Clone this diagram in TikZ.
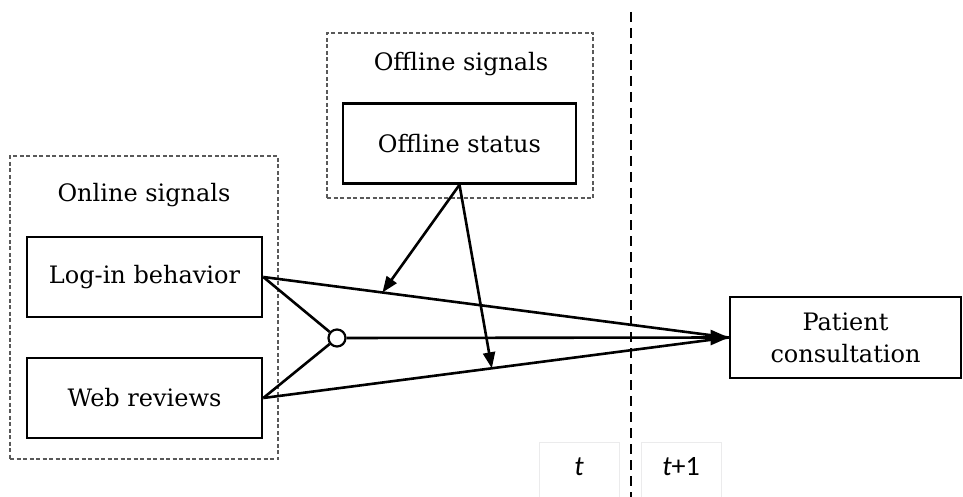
\documentclass[tikz,border=0pt]{standalone}
\usepackage{fontspec}
\setmainfont{DejaVu Serif}
\newfontfamily\calib{Carlito}
\usetikzlibrary{arrows.meta,calc}
\begin{document}
\begin{tikzpicture}[x=1pt,y=-1pt,
  solidbox/.style={draw,line width=2.6pt,minimum width=233pt,minimum height=80pt,inner sep=0pt,font=\fontsize{24}{32}\selectfont},
  groupbox/.style={draw=black!65,dashed,dash pattern=on 4pt off 2.5pt,line width=1.2pt,inner sep=0pt},
  grouplabel/.style={font=\fontsize{24}{28}\selectfont},
  link/.style={line width=2.6pt},
  smallarrow/.style={line width=2.6pt,-{Triangle[length=16pt,width=12pt]}},
  bigarrow/.style={line width=2.6pt,-{Triangle[length=18pt,width=15pt]}},
  timebox/.style={draw=blue!8!black!8,line width=0.6pt,minimum width=80pt,minimum height=60pt,inner sep=0pt},
  timelabel/.style={font=\calib\fontsize{28}{32}\selectfont}
]
\useasboundingbox (0,0) rectangle (963,497);
% group boxes
\node[groupbox,minimum width=266pt,minimum height=165pt] (offgroup) at (460,115.5) {};
\node[groupbox,minimum width=268pt,minimum height=303pt] (ongroup) at (144,307.5) {};
\node[grouplabel] (offlabel) at (461,64) {Offline signals};
\node[grouplabel] (onlabel) at (144,195) {Online signals};
% solid boxes
\node[solidbox] (offstatus) at (459.5,143.5) {Offline status};
\node[solidbox,minimum width=235pt] (login) at (144.5,277) {Log-in behavior};
\node[solidbox,minimum width=235pt] (web) at (144.5,398) {Web reviews};
\node[solidbox,minimum width=231pt,minimum height=81pt,align=center] (patient) at (845.5,337.5) {Patient\\consultation};
% time boxes
\node[timebox] (tbox) at (579,472) {};
\node[timebox] (t1box) at (681,472) {};
\node[timelabel] (tlab) at (579,467) {\itshape t};
\node[timelabel] (t1lab) at (681,467) {{\itshape t}+1};
% dashed time divider
\coordinate (divtop) at (631,12);
\coordinate (divbot) at (631,497);
\draw[line width=2.6pt,dash pattern=on 10pt off 6pt] (divtop) -- (divbot);
% junction
\node[draw,circle,line width=2.2pt,minimum size=17pt,inner sep=0pt,fill=white] (junc) at (337,338) {};
\coordinate (target) at (patient.west);
\draw[link] (login.east) -- (junc);
\draw[link] (web.east) -- (junc);
\draw[link] (login.east) -- (target);
\draw[link] (web.east) -- (target);
\draw[bigarrow] (junc) -- (target);
% moderation arrows
\coordinate (hitA) at ($(login.east)!0.256!(target)$);
\coordinate (hitB) at ($(web.east)!0.491!(target)$);
\draw[smallarrow] (offstatus.south) -- (hitA);
\draw[smallarrow] (offstatus.south) -- (hitB);
\end{tikzpicture}
\end{document}
